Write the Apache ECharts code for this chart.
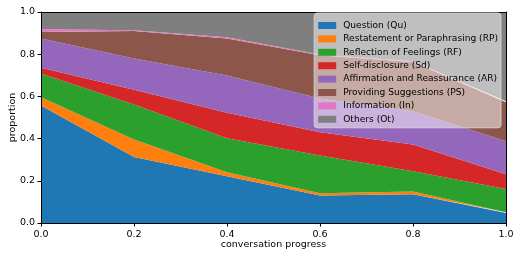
<!DOCTYPE html>
<html>
<head>
<meta charset="utf-8">
<script src="https://cdn.jsdelivr.net/npm/echarts@6/dist/echarts.min.js"></script>
<style>
  html, body { margin: 0; padding: 0; background: #fff; }
  #chart { width: 513px; height: 253px; }
</style>
</head>
<body>
<div id="chart"></div>
<script>
const progress = [0.0, 0.2, 0.4, 0.6, 0.8, 1.0];
const seriesNames = [
    'Question (Qu)',
    'Restatement or Paraphrasing (RP)',
    'Reflection of Feelings (RF)',
    'Self-disclosure (Sd)',
    'Affirmation and Reassurance (AR)',
    'Providing Suggestions (PS)',
    'Information (In)',
    'Others (Ot)'
];
const qu = [0.557, 0.313, 0.221, 0.130, 0.136, 0.047];
const rp = [0.039, 0.083, 0.019, 0.011, 0.013, 0.004];
const rf = [0.113, 0.166, 0.162, 0.179, 0.096, 0.110];
const sd = [0.027, 0.069, 0.120, 0.110, 0.127, 0.070];
const ar = [0.138, 0.149, 0.177, 0.160, 0.158, 0.157];
const ps = [0.031, 0.130, 0.176, 0.205, 0.233, 0.184];
const inf = [0.013, 0.003, 0.005, 0.004, 0.004, 0.005];
const ot = [0.082, 0.087, 0.120, 0.201, 0.233, 0.423];
const yTicks = [0.0, 0.2, 0.4, 0.6, 0.8, 1.0];

const colors = ['#1f77b4', '#ff7f0e', '#2ca02c', '#d62728', '#9467bd', '#8c564b', '#e377c2', '#7f7f7f'];
const allValues = [qu, rp, rf, sd, ar, ps, inf, ot];

const font = 'DejaVu Sans';
const chart = echarts.init(document.getElementById('chart'));

const series = allValues.map((vals, i) => ({
    name: seriesNames[i],
    type: 'line',
    stack: 'total',
    symbol: 'none',
    lineStyle: { width: 0 },
    areaStyle: { color: colors[i], opacity: 1 },
    itemStyle: { color: colors[i] },
    data: vals,
    z: 2
}));

const tickLabel = { fontFamily: font, fontSize: 9.5, color: '#000' };

chart.setOption({
    animation: false,
    grid: { left: 41, right: 7, top: 12, bottom: 30, outerBoundsMode: 'none' },
    legend: {
        orient: 'vertical',
        right: 12,
        top: 13,
        data: seriesNames,
        itemWidth: 18,
        itemHeight: 7,
        itemGap: 2.4,
        icon: 'rect',
        padding: [7, 3, 3, 4],
        backgroundColor: 'rgba(255,255,255,0.5)',
        borderColor: '#d0d0d0',
        borderWidth: 1,
        borderRadius: 3,
        textStyle: { fontFamily: font, fontSize: 9.1, color: '#000', lineHeight: 11, padding: [0, 0, 0, 2] },
        z: 10
    },
    xAxis: [{
        type: 'category',
        boundaryGap: false,
        data: progress.map(v => v.toFixed(1)),
        name: 'conversation progress',
        nameLocation: 'middle',
        nameGap: 17,
        nameMoveOverlap: false,
        nameTextStyle: { fontFamily: font, fontSize: 9.5, color: '#000' },
        axisLine: { show: true, lineStyle: { color: '#000', width: 1 } },
        axisTick: { show: true, length: 3.5, alignWithLabel: true, lineStyle: { color: '#000' } },
        axisLabel: Object.assign({ margin: 7 }, tickLabel),
        splitLine: { show: false },
        z: 5
    }, {
        type: 'value', position: 'top', min: 0, max: 1,
        axisLine: { show: true, onZero: false, lineStyle: { color: '#000', width: 1 } },
        axisTick: { show: false }, axisLabel: { show: false }, splitLine: { show: false },
        z: 5
    }],
    yAxis: [{
        type: 'value',
        min: 0, max: 1, interval: 0.2,
        name: 'proportion',
        nameLocation: 'middle',
        nameGap: 23,
        nameMoveOverlap: false,
        nameTextStyle: { fontFamily: font, fontSize: 9.5, color: '#000' },
        axisLine: { show: true, lineStyle: { color: '#000', width: 1 } },
        axisTick: { show: true, length: 3.5, lineStyle: { color: '#000' } },
        axisLabel: Object.assign({ margin: 6, formatter: v => v.toFixed(1),
            customValues: yTicks }, tickLabel),
        splitLine: { show: false },
        z: 5
    }, {
        type: 'value', position: 'right', min: 0, max: 1,
        axisLine: { show: true, onZero: false, lineStyle: { color: '#000', width: 1 } },
        axisTick: { show: false }, axisLabel: { show: false }, splitLine: { show: false },
        z: 5
    }],
    series: series
});
</script>
</body>
</html>
